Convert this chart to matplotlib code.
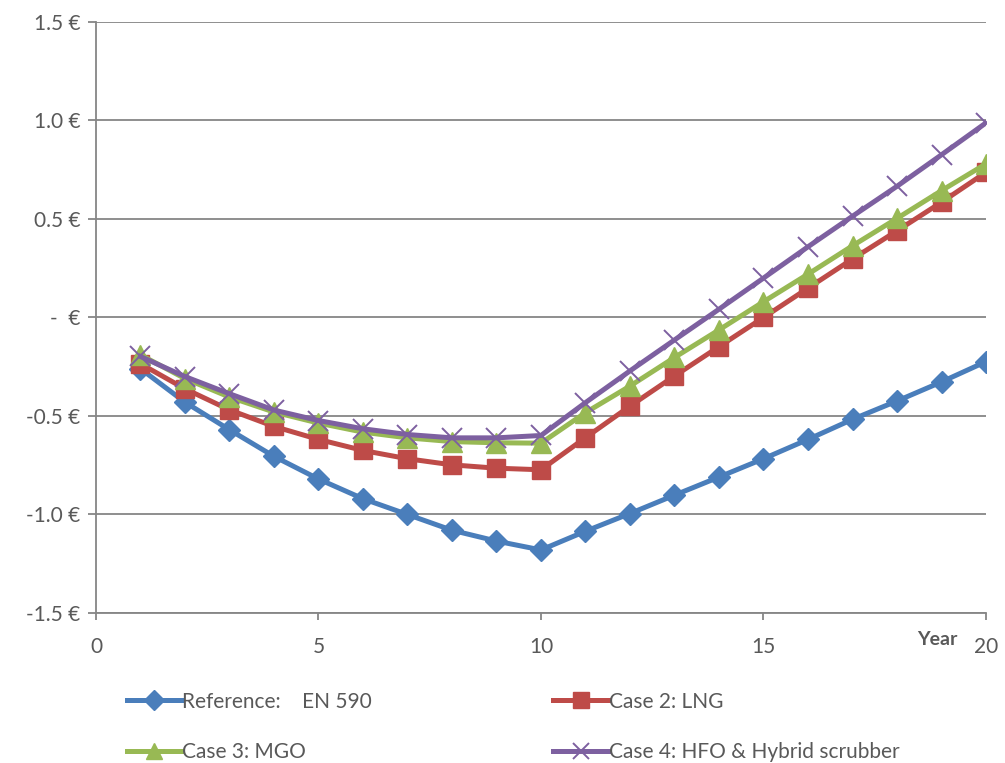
import matplotlib
matplotlib.use("Agg")
import matplotlib.pyplot as plt
from matplotlib.ticker import FixedLocator

years = list(range(1, 21))

reference_en590 = [-0.26, -0.43, -0.57, -0.705, -0.82, -0.92, -1.00, -1.08, -1.135, -1.18,
                   -1.085, -0.995, -0.902, -0.81, -0.717, -0.619, -0.517, -0.424, -0.327, -0.224]
case2_lng = [-0.235, -0.362, -0.469, -0.553, -0.619, -0.675, -0.717, -0.748, -0.765, -0.773,
             -0.61, -0.45, -0.297, -0.148, 0.0, 0.149, 0.297, 0.44, 0.585, 0.737]
case3_mgo = [-0.19, -0.31, -0.404, -0.48, -0.536, -0.582, -0.611, -0.63, -0.636, -0.638,
             -0.483, -0.348, -0.203, -0.063, 0.08, 0.22, 0.364, 0.503, 0.644, 0.78]
case4_hfo = [-0.198, -0.30, -0.387, -0.47, -0.523, -0.565, -0.594, -0.611, -0.611, -0.599,
             -0.432, -0.271, -0.114, 0.042, 0.20, 0.359, 0.514, 0.666, 0.826, 0.988]

series_labels = ["Reference:    EN 590", "Case 2: LNG", "Case 3: MGO",
                 "Case 4: HFO & Hybrid scrubber"]
y_ticks = [-1.5, -1.0, -0.5, 0.0, 0.5, 1.0, 1.5]
y_tick_labels = ["-1.5 €", "-1.0 €", "-0.5 €", "-  €", "0.5 €", "1.0 €", "1.5 €"]
x_ticks = [0, 5, 10, 15, 20]

plt.rcParams["font.family"] = ["Lato", "DejaVu Sans"]

fig = plt.figure(figsize=(10.05, 7.63), dpi=100)
ax = fig.add_axes([0.0955, 0.1966, 0.8856, 0.7746])

grid_col = "#868686"
text_col = "#595959"

styles = [
    dict(color="#4A7EBB", marker="D", markersize=11.5, lw=3.6),
    dict(color="#BE4B48", marker="s", markersize=13, lw=3.6),
    dict(color="#98B954", marker="^", markersize=14, lw=3.6),
    dict(color="#7D60A0", marker="x", markersize=14, lw=3.6, markeredgewidth=1.4),
]
data = [reference_en590, case2_lng, case3_mgo, case4_hfo]

handles = []
for vals, lab, st in zip(data, series_labels, styles):
    (h,) = ax.plot(years, vals, label=lab, solid_joinstyle="round", **st)
    handles.append(h)

ax.set_xlim(0, 20)
ax.set_ylim(-1.5, 1.5)
ax.yaxis.set_major_locator(FixedLocator(y_ticks))
ax.set_yticklabels(y_tick_labels)
ax.xaxis.set_major_locator(FixedLocator(x_ticks))
ax.set_xticklabels([str(v) for v in x_ticks])

ax.grid(axis="y", color=grid_col, lw=1.3)
ax.set_axisbelow(True)
for side in ("top", "right"):
    ax.spines[side].set_visible(False)
for side in ("left", "bottom"):
    ax.spines[side].set_color(grid_col)
    ax.spines[side].set_linewidth(1.3)

ax.tick_params(axis="y", direction="out", length=6, width=1.3, color=grid_col,
               labelcolor=text_col, labelsize=15, pad=5)
ax.tick_params(axis="x", direction="out", length=5, width=1.3, color=grid_col,
               labelcolor=text_col, labelsize=15, pad=12)

ax.text(0.968, -0.045, "Year", transform=ax.transAxes, ha="right", va="center",
        fontsize=14, fontweight="bold", color=text_col)

# row-wise order in a two-column legend
legend_order = [0, 2, 1, 3]
leg = fig.legend(handles=[handles[i] for i in legend_order], ncol=2, loc="upper left",
                 bbox_to_anchor=(0.108, 0.118), frameon=False,
                 fontsize=15, handlelength=2.6, handletextpad=0.05,
                 columnspacing=8.7, labelspacing=1.45, markerscale=0.85)
for t in leg.get_texts():
    t.set_color(text_col)

fig.savefig("out.png", dpi=100)
